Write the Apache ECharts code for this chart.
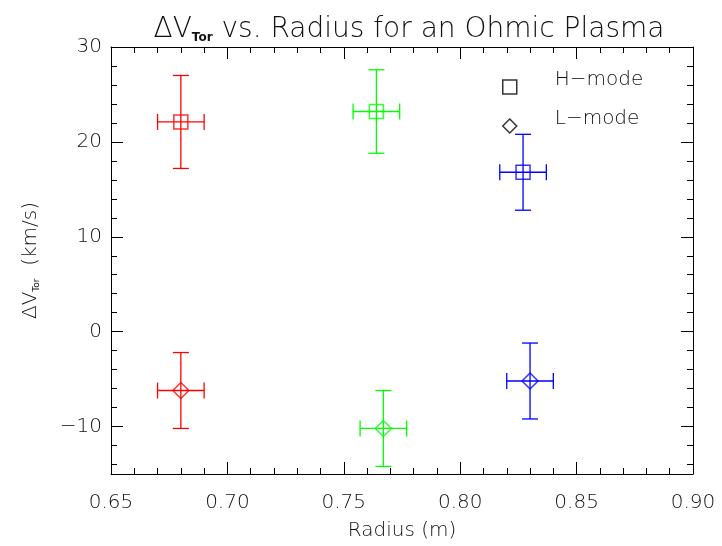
<!DOCTYPE html>
<html>
<head>
<meta charset="utf-8">
<script src="https://cdn.jsdelivr.net/npm/echarts@6/dist/echarts.min.js"></script>
<style>
html,body{margin:0;padding:0;background:#fff;}
#chart{width:722px;height:546px;}
</style>
</head>
<body>
<div id="chart"></div>
<script>
//数据
var hRadius = [0.680, 0.764, 0.827];
var hVel = [22.1, 23.2, 16.8];
var hRadErr = [0.01, 0.01, 0.01];
var hVelErr = [4.9, 4.4, 4.0];

var lRadius = [0.680, 0.767, 0.830];
var lVel = [-6.2, -10.2, -5.2];
var lRadErr = [0.01, 0.01, 0.01];
var lVelErr = [4.0, 4.0, 4.0];

var pointColors = ['#ff0000', '#00ff00', '#0000ff'];
var modeNames = ['H-mode', 'L-mode'];
var xTicks = [0.65, 0.70, 0.75, 0.80, 0.85, 0.90];

var FONT = 'DejaVu Sans';

//组装数据
function buildErr(xs, ys, dxs, dys){
    var arr = [];
    for(var i=0;i<xs.length;i++){
        arr.push([xs[i], ys[i], dxs[i], dys[i], i]);
    }
    return arr;
}
function buildPts(xs, ys){
    var arr = [];
    for(var i=0;i<xs.length;i++){
        arr.push({value:[xs[i], ys[i]], itemStyle:{borderColor: pointColors[i]}});
    }
    return arr;
}

//误差线
function renderErr(params, api){
    var x = api.value(0), y = api.value(1), dx = api.value(2), dy = api.value(3);
    var c = pointColors[api.value(4)];
    var l = api.coord([x - dx, y]), r = api.coord([x + dx, y]);
    var t = api.coord([x, y + dy]), b = api.coord([x, y - dy]);
    var cap = 8;
    var st = {stroke: c, lineWidth: 1.3};
    return {
        type: 'group',
        children: [
            {type:'line', shape:{x1:l[0], y1:l[1], x2:r[0], y2:r[1]}, style:st},
            {type:'line', shape:{x1:l[0], y1:l[1]-cap, x2:l[0], y2:l[1]+cap}, style:st},
            {type:'line', shape:{x1:r[0], y1:r[1]-cap, x2:r[0], y2:r[1]+cap}, style:st},
            {type:'line', shape:{x1:t[0], y1:t[1], x2:b[0], y2:b[1]}, style:st},
            {type:'line', shape:{x1:t[0]-cap, y1:t[1], x2:t[0]+cap, y2:t[1]}, style:st},
            {type:'line', shape:{x1:b[0]-cap, y1:b[1], x2:b[0]+cap, y2:b[1]}, style:st}
        ]
    };
}

var myChart = echarts.init(document.getElementById('chart'));

var axisLine = {show:true, onZero:false, lineStyle:{color:'#000', width:1}};
var majorTick = {show:true, inside:true, length:12, lineStyle:{color:'#000'}};
var minorTickY = {show:true, inside:true, length:6, lineStyle:{color:'#000'}};
var txt = {fontFamily: FONT, fontSize: 20, color: '#111', fontWeight: 'lighter'};

var option = {
    backgroundColor: '#fff',
    animation: false,
    title: {
        text: '{a|ΔV}{s|Tor}{a| vs. Radius for an Ohmic Plasma}',
        left: 404,
        top: 11,
        textAlign: 'center',
        textStyle: {
            rich: {
                a: {fontFamily: FONT, fontSize: 28, color: '#111', fontWeight: 'lighter'},
                s: {fontFamily: FONT, fontSize: 12, color: '#111', verticalAlign: 'bottom', padding:[16,0,0,0]}
            }
        }
    },
    legend: {
        orient: 'vertical',
        left: 497,
        top: 65,
        itemWidth: 14,
        itemHeight: 14,
        itemGap: 5,
        data: [
            {name: modeNames[0], icon: 'rect'},
            {name: modeNames[1], icon: 'diamond'}
        ],
        formatter: function(name){ return '{t|' + name.replace('-', '\u2212') + '}'; },
        itemStyle: {color: 'transparent', borderColor: '#000', borderWidth: 1.5},
        textStyle: {
            padding: [0, 0, 0, 33],
            rich: {
                t: {fontFamily: FONT, fontSize: 20, color: '#111', fontWeight: 'lighter', lineHeight: 24, padding: [0, 0, 14, 0]}
            }
        }
    },
    grid: {left: 111, right: 29, top: 47, bottom: 67},
    xAxis: [
        {
            type: 'value', position: 'bottom',
            min: xTicks[0], max: xTicks[xTicks.length-1], interval: 0.05,
            name: 'Radius (m)', nameLocation: 'middle', nameGap: 47,
            nameTextStyle: txt,
            axisLine: axisLine, axisTick: majorTick,
            minorTick: {show:true, splitNumber:5, length:6, lineStyle:{color:'#000'}},
            splitLine: {show:false}, minorSplitLine: {show:false},
            axisLabel: {fontFamily: FONT, fontSize: 20, color: '#111', fontWeight: 'lighter', margin: 19,
                formatter: function(v){ return v.toFixed(2); }}
        },
        {
            type: 'value', position: 'top',
            min: xTicks[0], max: xTicks[xTicks.length-1], interval: 0.05,
            axisLine: axisLine, axisTick: majorTick,
            minorTick: {show:true, splitNumber:5, length:6, lineStyle:{color:'#000'}},
            splitLine: {show:false}, axisLabel: {show:false}
        }
    ],
    yAxis: [
        {
            type: 'value', position: 'left',
            min: -15, max: 30, minInterval: 10, maxInterval: 10,
            name: '{a|ΔV}{s|Tor}{a|  (km/s)}', nameLocation: 'middle', nameGap: 70,
            nameTextStyle: {
                rich: {
                    a: {fontFamily: FONT, fontSize: 20, color: '#111', fontWeight: 'lighter'},
                    s: {fontFamily: FONT, fontSize: 9, color: '#111', verticalAlign: 'bottom', padding:[11,0,0,0]}
                }
            },
            axisLine: axisLine, axisTick: majorTick, splitLine: {show:false},
            axisLabel: {fontFamily: FONT, fontSize: 20, color: '#111', fontWeight: 'lighter', margin: 9, showMinLabel: false,
                formatter: function(v){ return v < 0 ? '\u2212' + Math.abs(v) : String(v); }}
        },
        {
            type: 'value', position: 'left',
            min: -15, max: 30, minInterval: 2, maxInterval: 2,
            axisLine: {show:false}, axisTick: minorTickY, splitLine: {show:false}, axisLabel: {show:false}
        },
        {
            type: 'value', position: 'right',
            min: -15, max: 30, minInterval: 10, maxInterval: 10,
            axisLine: axisLine, axisTick: majorTick, splitLine: {show:false}, axisLabel: {show:false}
        },
        {
            type: 'value', position: 'right',
            min: -15, max: 30, minInterval: 2, maxInterval: 2,
            axisLine: {show:false}, axisTick: minorTickY, splitLine: {show:false}, axisLabel: {show:false}
        }
    ],
    series: [
        {
            name: 'errH', type: 'custom', xAxisIndex: 0, yAxisIndex: 0,
            renderItem: renderErr, data: buildErr(hRadius, hVel, hRadErr, hVelErr), z: 2
        },
        {
            name: 'errL', type: 'custom', xAxisIndex: 0, yAxisIndex: 0,
            renderItem: renderErr, data: buildErr(lRadius, lVel, lRadErr, lVelErr), z: 2
        },
        {
            name: modeNames[0], type: 'scatter', xAxisIndex: 0, yAxisIndex: 0,
            symbol: 'rect', symbolSize: 14,
            itemStyle: {color: 'transparent', borderColor: '#000', borderWidth: 1.5},
            data: buildPts(hRadius, hVel), z: 3
        },
        {
            name: modeNames[1], type: 'scatter', xAxisIndex: 0, yAxisIndex: 0,
            symbol: 'diamond', symbolSize: 16,
            itemStyle: {color: 'transparent', borderColor: '#000', borderWidth: 1.5},
            data: buildPts(lRadius, lVel), z: 3
        }
    ]
};
myChart.setOption(option);
</script>
</body>
</html>
